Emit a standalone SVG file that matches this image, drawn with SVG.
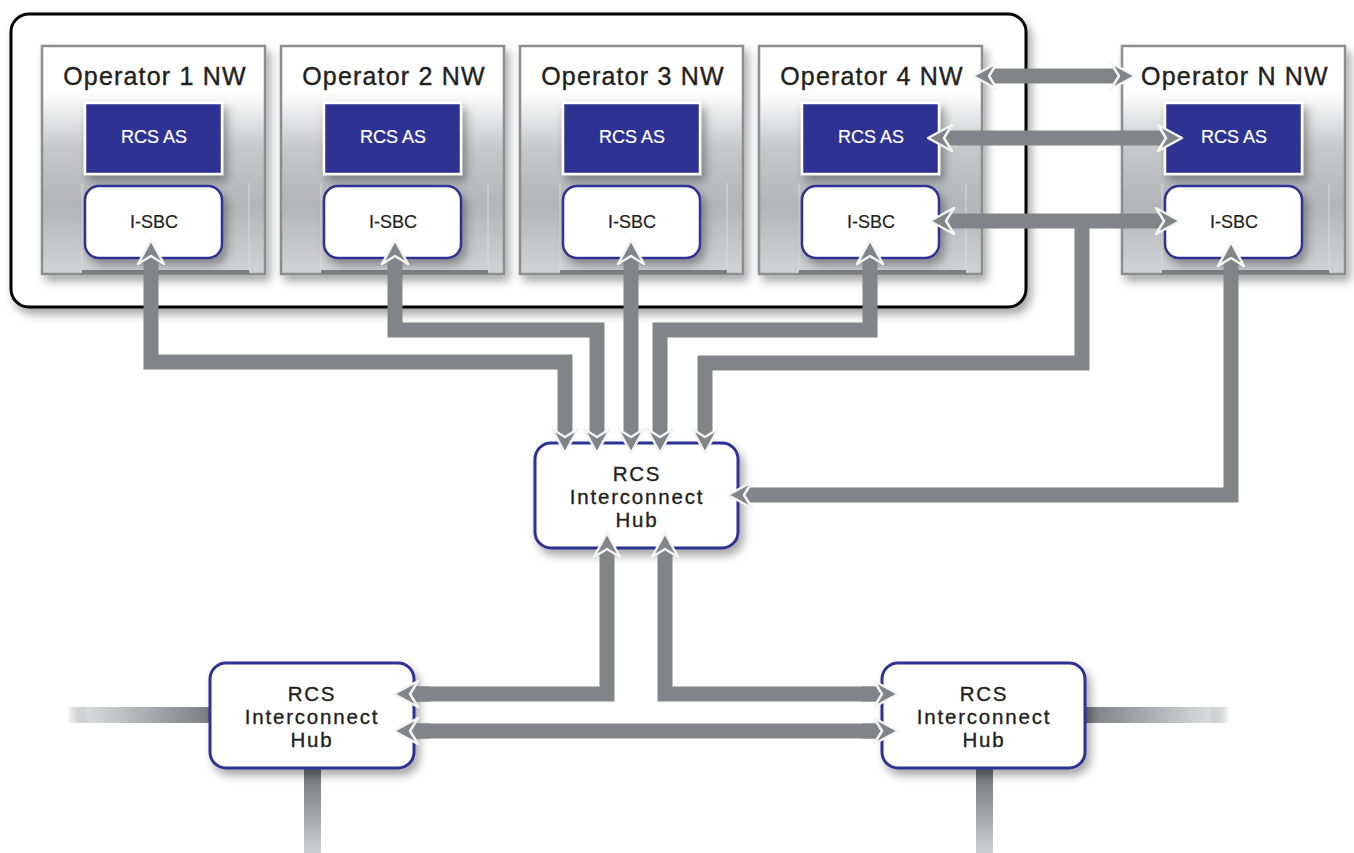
<svg xmlns="http://www.w3.org/2000/svg" width="1354" height="853" viewBox="0 0 1354 853">
  <defs>
    <style>
      .title { font-family: "Liberation Sans", Arial, sans-serif; font-size: 25px; letter-spacing: 1.2px; fill: #231f20; stroke: #231f20; stroke-width: 0.4px; text-anchor: middle; }
      .as-label { font-family: "Liberation Sans", Arial, sans-serif; font-size: 18px; fill: #ffffff; stroke: #ffffff; stroke-width: 0.2px; text-anchor: middle; }
      .sbc-label { font-family: "Liberation Sans", Arial, sans-serif; font-size: 18px; fill: #231f20; stroke: #231f20; stroke-width: 0.2px; text-anchor: middle; }
      .hub-label { font-family: "Liberation Sans", Arial, sans-serif; font-size: 20.5px; letter-spacing: 1.8px; fill: #231f20; stroke: #231f20; stroke-width: 0.35px; text-anchor: middle; }
      .op-box { fill: url(#opFill); stroke: #8c8d90; stroke-width: 2.5; }
      .op-base { stroke: #7d7e82; stroke-width: 4; }
      .op-rail { stroke: #dadbdc; stroke-width: 1; }
      .as-box { fill: #2e3192; stroke: #ffffff; stroke-width: 2.5; }
      .sbc-box { fill: #ffffff; stroke: #2e3192; stroke-width: 2.5; }
      .hub-box { fill: #ffffff; stroke: #2e3192; stroke-width: 3; }
      .link { fill: none; stroke: #838488; stroke-width: 15; stroke-linejoin: miter; stroke-linecap: butt; }
      .link2 { marker-start: url(#ah); marker-end: url(#ah); }
      .link1 { marker-end: url(#ah); }
    </style>
    <linearGradient id="opFill" x1="0" y1="0" x2="0" y2="1">
      <stop offset="0" stop-color="#ffffff"/>
      <stop offset="0.2" stop-color="#ffffff"/>
      <stop offset="0.45" stop-color="#c6c7c9"/>
      <stop offset="0.7" stop-color="#b4b5b8"/>
      <stop offset="1" stop-color="#d2d3d5"/>
    </linearGradient>
    <linearGradient id="fadeLeft" x1="0" y1="0" x2="1" y2="0">
      <stop offset="0" stop-color="#7b7c80" stop-opacity="0"/>
      <stop offset="0.15" stop-color="#d8d9db"/>
      <stop offset="1" stop-color="#7b7c80"/>
    </linearGradient>
    <linearGradient id="fadeRight" x1="0" y1="0" x2="1" y2="0">
      <stop offset="0" stop-color="#7b7c80"/>
      <stop offset="0.85" stop-color="#d8d9db"/>
      <stop offset="1" stop-color="#7b7c80" stop-opacity="0"/>
    </linearGradient>
    <linearGradient id="fadeDown" x1="0" y1="0" x2="0" y2="1">
      <stop offset="0" stop-color="#6f7074"/>
      <stop offset="1" stop-color="#cfd0d2"/>
    </linearGradient>
    <filter id="shadow" x="-20%" y="-20%" width="150%" height="160%">
      <feDropShadow dx="4" dy="6" stdDeviation="5" flood-color="#000000" flood-opacity="0.35"/>
    </filter>
    <marker id="ah" markerUnits="userSpaceOnUse" viewBox="-4 -18 32 36" markerWidth="32" markerHeight="36" refX="8" refY="0" orient="auto-start-reverse" overflow="visible">
      <path d="M0,-13 L24,0 L0,13 L8,0 Z" fill="#838488" stroke="#f4f4f4" stroke-width="2.5" stroke-linejoin="round"/>
    </marker>
  </defs>

  <rect width="1354" height="853" fill="#ffffff"/>

  <!-- enclosing frame of the federated operators -->
  <g id="frame">
    <rect x="11" y="14" width="1015" height="293" rx="18" fill="#ffffff" stroke="#000000" stroke-width="3" filter="url(#shadow)"/>
  </g>

  <!-- operator networks -->
  <g id="op1">
    <rect class="op-box" x="42" y="46" width="223" height="228" filter="url(#shadow)"/>
    <line class="op-rail" x1="82" y1="183" x2="82" y2="272"/>
    <line class="op-rail" x1="249" y1="183" x2="249" y2="272"/>
    <line class="op-base" x1="82" y1="272" x2="249" y2="272"/>
    <text class="title" x="155" y="85">Operator 1 NW</text>
    <rect class="as-box" x="85" y="103" width="137" height="71" filter="url(#shadow)"/>
    <text class="as-label" x="154" y="143">RCS AS</text>
    <rect class="sbc-box" x="85" y="186" width="137" height="72" rx="14" filter="url(#shadow)"/>
    <text class="sbc-label" x="154" y="228">I-SBC</text>
  </g>
  <g id="op2">
    <rect class="op-box" x="281" y="46" width="223" height="228" filter="url(#shadow)"/>
    <line class="op-rail" x1="321" y1="183" x2="321" y2="272"/>
    <line class="op-rail" x1="488" y1="183" x2="488" y2="272"/>
    <line class="op-base" x1="321" y1="272" x2="488" y2="272"/>
    <text class="title" x="394" y="85">Operator 2 NW</text>
    <rect class="as-box" x="324" y="103" width="137" height="71" filter="url(#shadow)"/>
    <text class="as-label" x="393" y="143">RCS AS</text>
    <rect class="sbc-box" x="324" y="186" width="137" height="72" rx="14" filter="url(#shadow)"/>
    <text class="sbc-label" x="393" y="228">I-SBC</text>
  </g>
  <g id="op3">
    <rect class="op-box" x="520" y="46" width="223" height="228" filter="url(#shadow)"/>
    <line class="op-rail" x1="560" y1="183" x2="560" y2="272"/>
    <line class="op-rail" x1="727" y1="183" x2="727" y2="272"/>
    <line class="op-base" x1="560" y1="272" x2="727" y2="272"/>
    <text class="title" x="633" y="85">Operator 3 NW</text>
    <rect class="as-box" x="563" y="103" width="137" height="71" filter="url(#shadow)"/>
    <text class="as-label" x="632" y="143">RCS AS</text>
    <rect class="sbc-box" x="563" y="186" width="137" height="72" rx="14" filter="url(#shadow)"/>
    <text class="sbc-label" x="632" y="228">I-SBC</text>
  </g>
  <g id="op4">
    <rect class="op-box" x="759" y="46" width="223" height="228" filter="url(#shadow)"/>
    <line class="op-rail" x1="799" y1="183" x2="799" y2="272"/>
    <line class="op-rail" x1="966" y1="183" x2="966" y2="272"/>
    <line class="op-base" x1="799" y1="272" x2="966" y2="272"/>
    <text class="title" x="872" y="85">Operator 4 NW</text>
    <rect class="as-box" x="802" y="103" width="137" height="71" filter="url(#shadow)"/>
    <text class="as-label" x="871" y="143">RCS AS</text>
    <rect class="sbc-box" x="802" y="186" width="137" height="72" rx="14" filter="url(#shadow)"/>
    <text class="sbc-label" x="871" y="228">I-SBC</text>
  </g>
  <g id="opN">
    <rect class="op-box" x="1122" y="46" width="223" height="228" filter="url(#shadow)"/>
    <line class="op-rail" x1="1162" y1="183" x2="1162" y2="272"/>
    <line class="op-rail" x1="1329" y1="183" x2="1329" y2="272"/>
    <line class="op-base" x1="1162" y1="272" x2="1329" y2="272"/>
    <text class="title" x="1235" y="85">Operator N NW</text>
    <rect class="as-box" x="1165" y="103" width="137" height="71" filter="url(#shadow)"/>
    <text class="as-label" x="1234" y="143">RCS AS</text>
    <rect class="sbc-box" x="1165" y="186" width="137" height="72" rx="14" filter="url(#shadow)"/>
    <text class="sbc-label" x="1234" y="228">I-SBC</text>
  </g>

  <!-- interconnect hubs -->
  <g id="hub-center">
    <rect class="hub-box" x="535" y="443" width="203" height="105" rx="16" filter="url(#shadow)"/>
    <text class="hub-label" x="637" y="481">RCS</text>
    <text class="hub-label" x="637" y="504">Interconnect</text>
    <text class="hub-label" x="637" y="527">Hub</text>
  </g>

  <!-- connectors -->
  <g id="connectors">
    <!-- feeds leaving the drawing -->
    <rect x="67" y="707" width="144" height="16" fill="url(#fadeLeft)"/>
    <rect x="304" y="768" width="17" height="85" fill="url(#fadeDown)"/>
    <rect x="1084" y="707" width="146" height="16" fill="url(#fadeRight)"/>
    <rect x="976" y="768" width="17" height="85" fill="url(#fadeDown)"/>

    <!-- operator I-SBCs to central hub -->
    <path class="link link2" d="M151,256 V362 H565 V437"/>
    <path class="link link2" d="M395,256 V330 H597 V437"/>
    <path class="link link2" d="M631,256 V437"/>
    <path class="link link2" d="M870,256 V330 H660 V437"/>
    <path class="link link1" d="M1082,221 V363 H705 V437"/>
    <path class="link link2" d="M1231,258 V495 H744"/>

    <!-- direct peering between operator 4 and operator N -->
    <path class="link link2" d="M989,76 H1119"/>
    <path class="link link2" d="M944,138 H1166"/>
    <path class="link link2" d="M946,221 H1164"/>

    <!-- hub to hub -->
    <path class="link link2" d="M607,549 V694 H410"/>
    <path class="link link2" d="M665,549 V694 H882"/>
    <path class="link link2" d="M410,731 H882"/>
  </g>

  <g id="hub-left">
    <rect class="hub-box" x="210" y="663" width="204" height="105" rx="16" filter="url(#shadow)"/>
    <text class="hub-label" x="312" y="701">RCS</text>
    <text class="hub-label" x="312" y="724">Interconnect</text>
    <text class="hub-label" x="312" y="747">Hub</text>
  </g>
  <g id="hub-right">
    <rect class="hub-box" x="882" y="663" width="203" height="105" rx="16" filter="url(#shadow)"/>
    <text class="hub-label" x="984" y="701">RCS</text>
    <text class="hub-label" x="984" y="724">Interconnect</text>
    <text class="hub-label" x="984" y="747">Hub</text>
  </g>

  <!-- arrowheads that overlap the lower hubs -->
  <g id="hub-arrow-overlay">
    <path class="link link1" d="M430,694 H410"/>
    <path class="link link1" d="M430,731 H410"/>
    <path class="link link1" d="M862,694 H882"/>
    <path class="link link1" d="M862,731 H882"/>
  </g>
</svg>
